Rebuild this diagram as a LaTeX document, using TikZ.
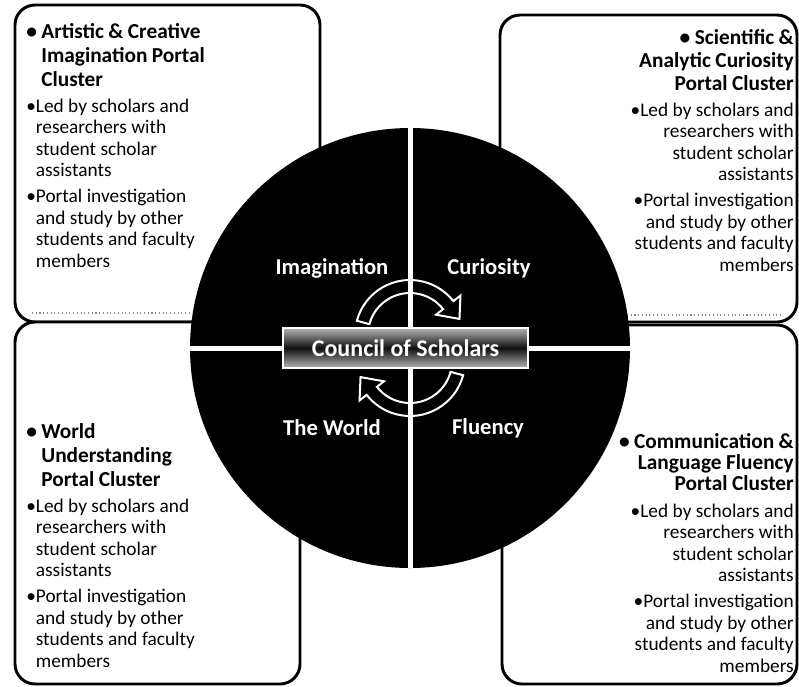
\documentclass[tikz,border=0pt]{standalone}
\usepackage{fontspec}
\setmainfont{Carlito}
\usetikzlibrary{calc}
\definecolor{BarGray}{HTML}{B4B4B4}
\definecolor{BarDark}{HTML}{101010}
\definecolor{DotGray}{HTML}{8A8A8A}
\newcommand{\titlefont}[1][18]{\fontsize{16}{#1}\selectfont\bfseries}
\newcommand{\bodyfont}{\fontsize{14.5}{16.1}\selectfont}
\newcommand{\quadfont}{\fontsize{17}{20}\selectfont\bfseries}
\newcommand{\headitem}[1]{\setbox0\hbox{\textbullet\ }\hangindent=\wd0\hangafter=1\unhcopy0#1\par}
\newcommand{\bodyitem}[1]{\setbox0\hbox{\textbullet}\hangindent=\wd0\hangafter=1\unhcopy0#1\par}
\newcommand{\portalbody}{\parskip=3.6pt
  {\bodyfont\bodyitem{Led by scholars and\break researchers with\break student scholar\break assistants}}%
  {\bodyfont\bodyitem{Portal investigation\break and study by other\break students and faculty\break members}}}
\tikzset{
  panel/.style={draw=black, line width=2.2pt, fill=white, rounded corners=15pt},
  blurb/.style={inner sep=0pt, text width=165pt},
  divider/.style={draw=white, line width=3.75pt},
  cyclearrow/.style={draw=white, line width=1.5pt},
  quadlabel/.style={text=white, font=\quadfont, inner sep=0pt},
  councilbar/.style={draw=white, line width=0.8pt, minimum width=183.75pt, minimum height=30pt,
    inner sep=0pt, top color=BarGray, bottom color=BarGray, middle color=BarDark,
    text=white, font=\fontsize{18}{20}\selectfont\bfseries}
}

\begin{document}
\begin{tikzpicture}[x=0.75pt, y=-0.75pt]
  \fill[white] (0,0) rectangle (799,686);
  \useasboundingbox (0,0) rectangle (799,686);
  % cluster panels
  \draw[panel] (15,5) rectangle (320,322);
  \draw[panel] (500,15) rectangle (797,322);
  \draw[panel] (15,322) rectangle (300,684);
  \draw[panel] (502,325) rectangle (797,684);
  \draw[DotGray, dotted, line width=0.8pt] (32,313) -- (300,313);
  \draw[DotGray, dotted, line width=0.8pt] (515,315) -- (782,315);
  % central disc cut in four
  \fill[black] (410,348) circle[radius=220];
  \draw[divider] (410,128) -- (410,568);
  \draw[divider] (190,348) -- (630,348);
  \foreach \cy/\a in {335/195, 361/15}{
    \pgfmathsetmacro{\backang}{\a+127}
    \pgfmathsetmacro{\tipang}{\a+147}
    \begin{scope}[shift={(410,\cy)}]
      \draw[cyclearrow] (\a:55) arc[start angle=\a, end angle=\backang, radius=55]
        -- (\backang:64) -- (\tipang:52) -- (\backang:33) -- (\backang:42)
        arc[start angle=\backang, end angle=\a, radius=42] -- cycle;
    \end{scope}
  }
  \node[councilbar] (council) at (405.5,348) {Council of Scholars};
  \foreach \x/\y/\lab/\nm in {332/268/Imagination/imagination, 489/268/Curiosity/curiosity,
    332/428/The World/theworld, 488/428/Fluency/fluency}
    \node[quadlabel] (\nm) at (\x,\y) {\lab};
  % cluster texts
  \node[blurb, align=left, anchor=base west] (artistic) at (26,38)
    {{\titlefont\headitem{Artistic \& Creative\break Imagination Portal\break Cluster}}\portalbody};
  \node[blurb, align=right, anchor=base east] (scientific) at (794,44)
    {{\titlefont[17.25]\headitem{Scientific \&\break Analytic Curiosity\break Portal Cluster}}\portalbody};
  \node[blurb, align=left, anchor=base west] (worldwide) at (26,438)
    {{\titlefont\headitem{World\break Understanding\break Portal Cluster}}\portalbody};
  \node[blurb, align=right, anchor=base east] (communication) at (794,448)
    {{\titlefont[16.1]\headitem{Communication \&\break Language Fluency\break Portal Cluster}}\portalbody};
\end{tikzpicture}
\end{document}
